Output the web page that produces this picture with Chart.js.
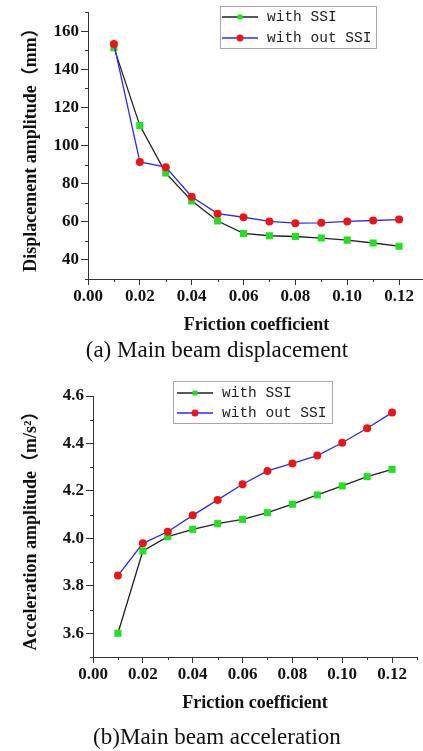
<!DOCTYPE html>
<html>
<head>
<meta charset="utf-8">
<script src="https://cdn.jsdelivr.net/npm/chart.js@4.4.1/dist/chart.umd.min.js"></script>
<style>
  html, body { margin: 0; padding: 0; background: #fff; overflow: hidden; }
  body { width: 423px; height: 751px; position: relative; }
  #wrapA { position: absolute; left: 0; top: 0; width: 423px; height: 340px; overflow: hidden; }
  #wrapB { position: absolute; left: 0; top: 370px; width: 423px; height: 345px; }
  .caption { position: absolute; left: 0; width: 434px; text-align: center;
             font-family: "Liberation Serif", serif; font-size: 23px; line-height: 26px; color: #111; }
</style>
</head>
<body>
<div id="wrapA"><canvas id="dispChart" width="430" height="340"></canvas></div>
<div class="caption" style="top:337px">(a) Main beam displacement</div>
<div id="wrapB"><canvas id="accChart" width="423" height="345"></canvas></div>
<div class="caption" style="top:724px">(b)Main beam acceleration</div>
<script>
// Data
const frictionCoef = [0.01, 0.02, 0.03, 0.04, 0.05, 0.06, 0.07, 0.08, 0.09, 0.10, 0.11, 0.12];
const seriesNames = ["with SSI", "with out SSI"];

const dispWithSSI = [151.4, 110.5, 85.6, 71.0, 60.4, 53.9, 52.7, 52.3, 51.5, 50.4, 48.9, 47.2];
const dispWithoutSSI = [153.3, 91.4, 88.7, 73.2, 64.3, 62.4, 60.2, 59.3, 59.5, 60.2, 60.7, 61.2];

const accWithSSI = [3.600, 3.947, 4.007, 4.038, 4.062, 4.080, 4.108, 4.144, 4.183, 4.221, 4.260, 4.291];
const accWithoutSSI = [3.843, 3.979, 4.028, 4.097, 4.162, 4.228, 4.284, 4.316, 4.349, 4.403, 4.464, 4.530];

// Tick labels
const xTicks = [0.00, 0.02, 0.04, 0.06, 0.08, 0.10, 0.12];
const xMinor = [0.01, 0.03, 0.05, 0.07, 0.09, 0.11, 0.13];
const dispTicks = [40, 60, 80, 100, 120, 140, 160];
const dispMinor = [30, 50, 70, 90, 110, 130, 150, 170];
const accTicks = [3.6, 3.8, 4.0, 4.2, 4.4, 4.6];
const accMinor = [3.5, 3.7, 3.9, 4.1, 4.3, 4.5];

const serif = '"Liberation Serif", "Noto Sans CJK SC", serif';
const axisColor = "#333";

// small outward minor ticks on both axes
const minorTicks = {
  id: "minorTicks",
  afterDraw(chart, args, opts) {
    const { ctx, scales: { x, y } } = chart;
    ctx.save();
    ctx.strokeStyle = axisColor;
    ctx.lineWidth = 1;
    ctx.beginPath();
    opts.x.forEach(v => {
      const px = Math.round(x.getPixelForValue(v)) + 0.5;
      ctx.moveTo(px, x.top);
      ctx.lineTo(px, x.top + 3);
    });
    opts.y.forEach(v => {
      const py = Math.round(y.getPixelForValue(v)) + 0.5;
      ctx.moveTo(y.right - 3, py);
      ctx.lineTo(y.right, py);
    });
    ctx.stroke();
    ctx.restore();
  }
};

// legend inside a thin grey box
const boxLegend = {
  id: "boxLegend",
  afterDraw(chart, args, o) {
    const ctx = chart.ctx;
    ctx.save();
    ctx.strokeStyle = "#a8a8a8";
    ctx.lineWidth = 1;
    ctx.strokeRect(o.x + 0.5, o.y + 0.5, o.w, o.h);
    chart.data.datasets.forEach((ds, i) => {
      const y = o.y + o.rows[i];
      ctx.strokeStyle = ds.borderColor;
      ctx.lineWidth = 1.5;
      ctx.beginPath();
      ctx.moveTo(o.x + o.line[0], y);
      ctx.lineTo(o.x + o.line[1], y);
      ctx.stroke();
      ctx.fillStyle = ds.pointBackgroundColor;
      Chart.helpers.drawPoint(ctx, { pointStyle: ds.pointStyle, radius: 3.5, borderWidth: 0 },
        o.x + (o.line[0] + o.line[1]) / 2, y);
      ctx.fillStyle = "#222";
      ctx.font = '14.5px "Liberation Mono", monospace';
      ctx.textBaseline = "middle";
      ctx.fillText(ds.label, o.x + o.text, y);
    });
    ctx.restore();
  }
};

function makeSeries(values) {
  return frictionCoef.map((x, i) => ({ x: x, y: values[i] }));
}

function makeChart(id, cfg) {
  return new Chart(document.getElementById(id), {
    type: "line",
    data: {
      datasets: [{
        label: seriesNames[0],
        data: makeSeries(cfg.withSSI),
        borderColor: "#222",
        borderWidth: 1.3,
        pointStyle: "rect",
        pointRadius: 5,
        pointBackgroundColor: "#22e022",
        pointBorderColor: "#22e022",
        pointBorderWidth: 0,
        order: 1
      }, {
        label: seriesNames[1],
        data: makeSeries(cfg.withoutSSI),
        borderColor: "#2b2bf0",
        borderWidth: 1.3,
        pointStyle: "circle",
        pointRadius: 4,
        pointBackgroundColor: "#ee1414",
        pointBorderColor: "#ee1414",
        pointBorderWidth: 0,
        order: 0
      }]
    },
    options: {
      responsive: false,
      animation: false,
      layout: { padding: cfg.padding },
      plugins: {
        legend: { display: false },
        tooltip: { enabled: false },
        minorTicks: { x: xMinor, y: cfg.yMinor },
        boxLegend: cfg.legend
      },
      scales: {
        x: {
          type: "linear",
          min: 0,
          max: 0.13,
          afterBuildTicks: s => { s.ticks = xTicks.map(v => ({ value: v })); },
          afterFit: s => { s.height = cfg.xHeight; },
          border: { display: true, color: axisColor, width: 1 },
          grid: { display: true, drawOnChartArea: false, drawTicks: true, tickLength: 6, color: axisColor },
          ticks: {
            color: "#111", padding: 1, maxRotation: 0, autoSkip: false,
            font: { family: serif, size: 17, weight: "bold" },
            callback: v => v.toFixed(2)
          },
          title: {
            display: true, text: "Friction coefficient", color: "#111",
            font: { family: serif, size: 18, weight: "bold" },
            padding: { top: 0, bottom: cfg.titlePad }
          }
        },
        y: {
          min: cfg.yMin,
          max: cfg.yMax,
          afterBuildTicks: s => { s.ticks = cfg.yTicks.map(v => ({ value: v })); },
          afterFit: s => { s.width = cfg.yWidth; },
          border: { display: true, color: axisColor, width: 1 },
          grid: { display: true, drawOnChartArea: false, drawTicks: true, tickLength: 7, color: axisColor },
          ticks: {
            color: "#111", padding: 2,
            font: { family: serif, size: 17, weight: "bold" },
            callback: cfg.yFormat
          },
          title: {
            display: true, text: cfg.yTitle, color: "#111",
            font: { family: serif, size: 18, weight: "bold" },
            padding: { top: 21, bottom: 0 }
          }
        }
      }
    },
    plugins: [minorTicks, boxLegend]
  });
}

makeChart("dispChart", {
  withSSI: dispWithSSI,
  withoutSSI: dispWithoutSSI,
  yMin: 30, yMax: 170,
  yTicks: dispTicks,
  yMinor: dispMinor,
  yFormat: v => String(v),
  yTitle: "Displacement amplitude（mm）",
  yWidth: 88,
  xHeight: 61,
  titlePad: 4,
  padding: { top: 5, right: 4, left: 0, bottom: 0 },
  legend: { x: 220, y: 6, w: 156, h: 42, rows: [11, 32], line: [2, 38], text: 47 }
});

makeChart("accChart", {
  withSSI: accWithSSI,
  withoutSSI: accWithoutSSI,
  yMin: 3.5, yMax: 4.6,
  yTicks: accTicks,
  yMinor: accMinor,
  yFormat: v => v.toFixed(1),
  yTitle: "Acceleration amplitude（m/s²）",
  yWidth: 93,
  xHeight: 58,
  titlePad: 1,
  padding: { top: 26, right: 6, left: 0, bottom: 0 },
  legend: { x: 173, y: 11, w: 159, h: 42, rows: [12, 32], line: [4, 40], text: 49 }
});
</script>
</body>
</html>
